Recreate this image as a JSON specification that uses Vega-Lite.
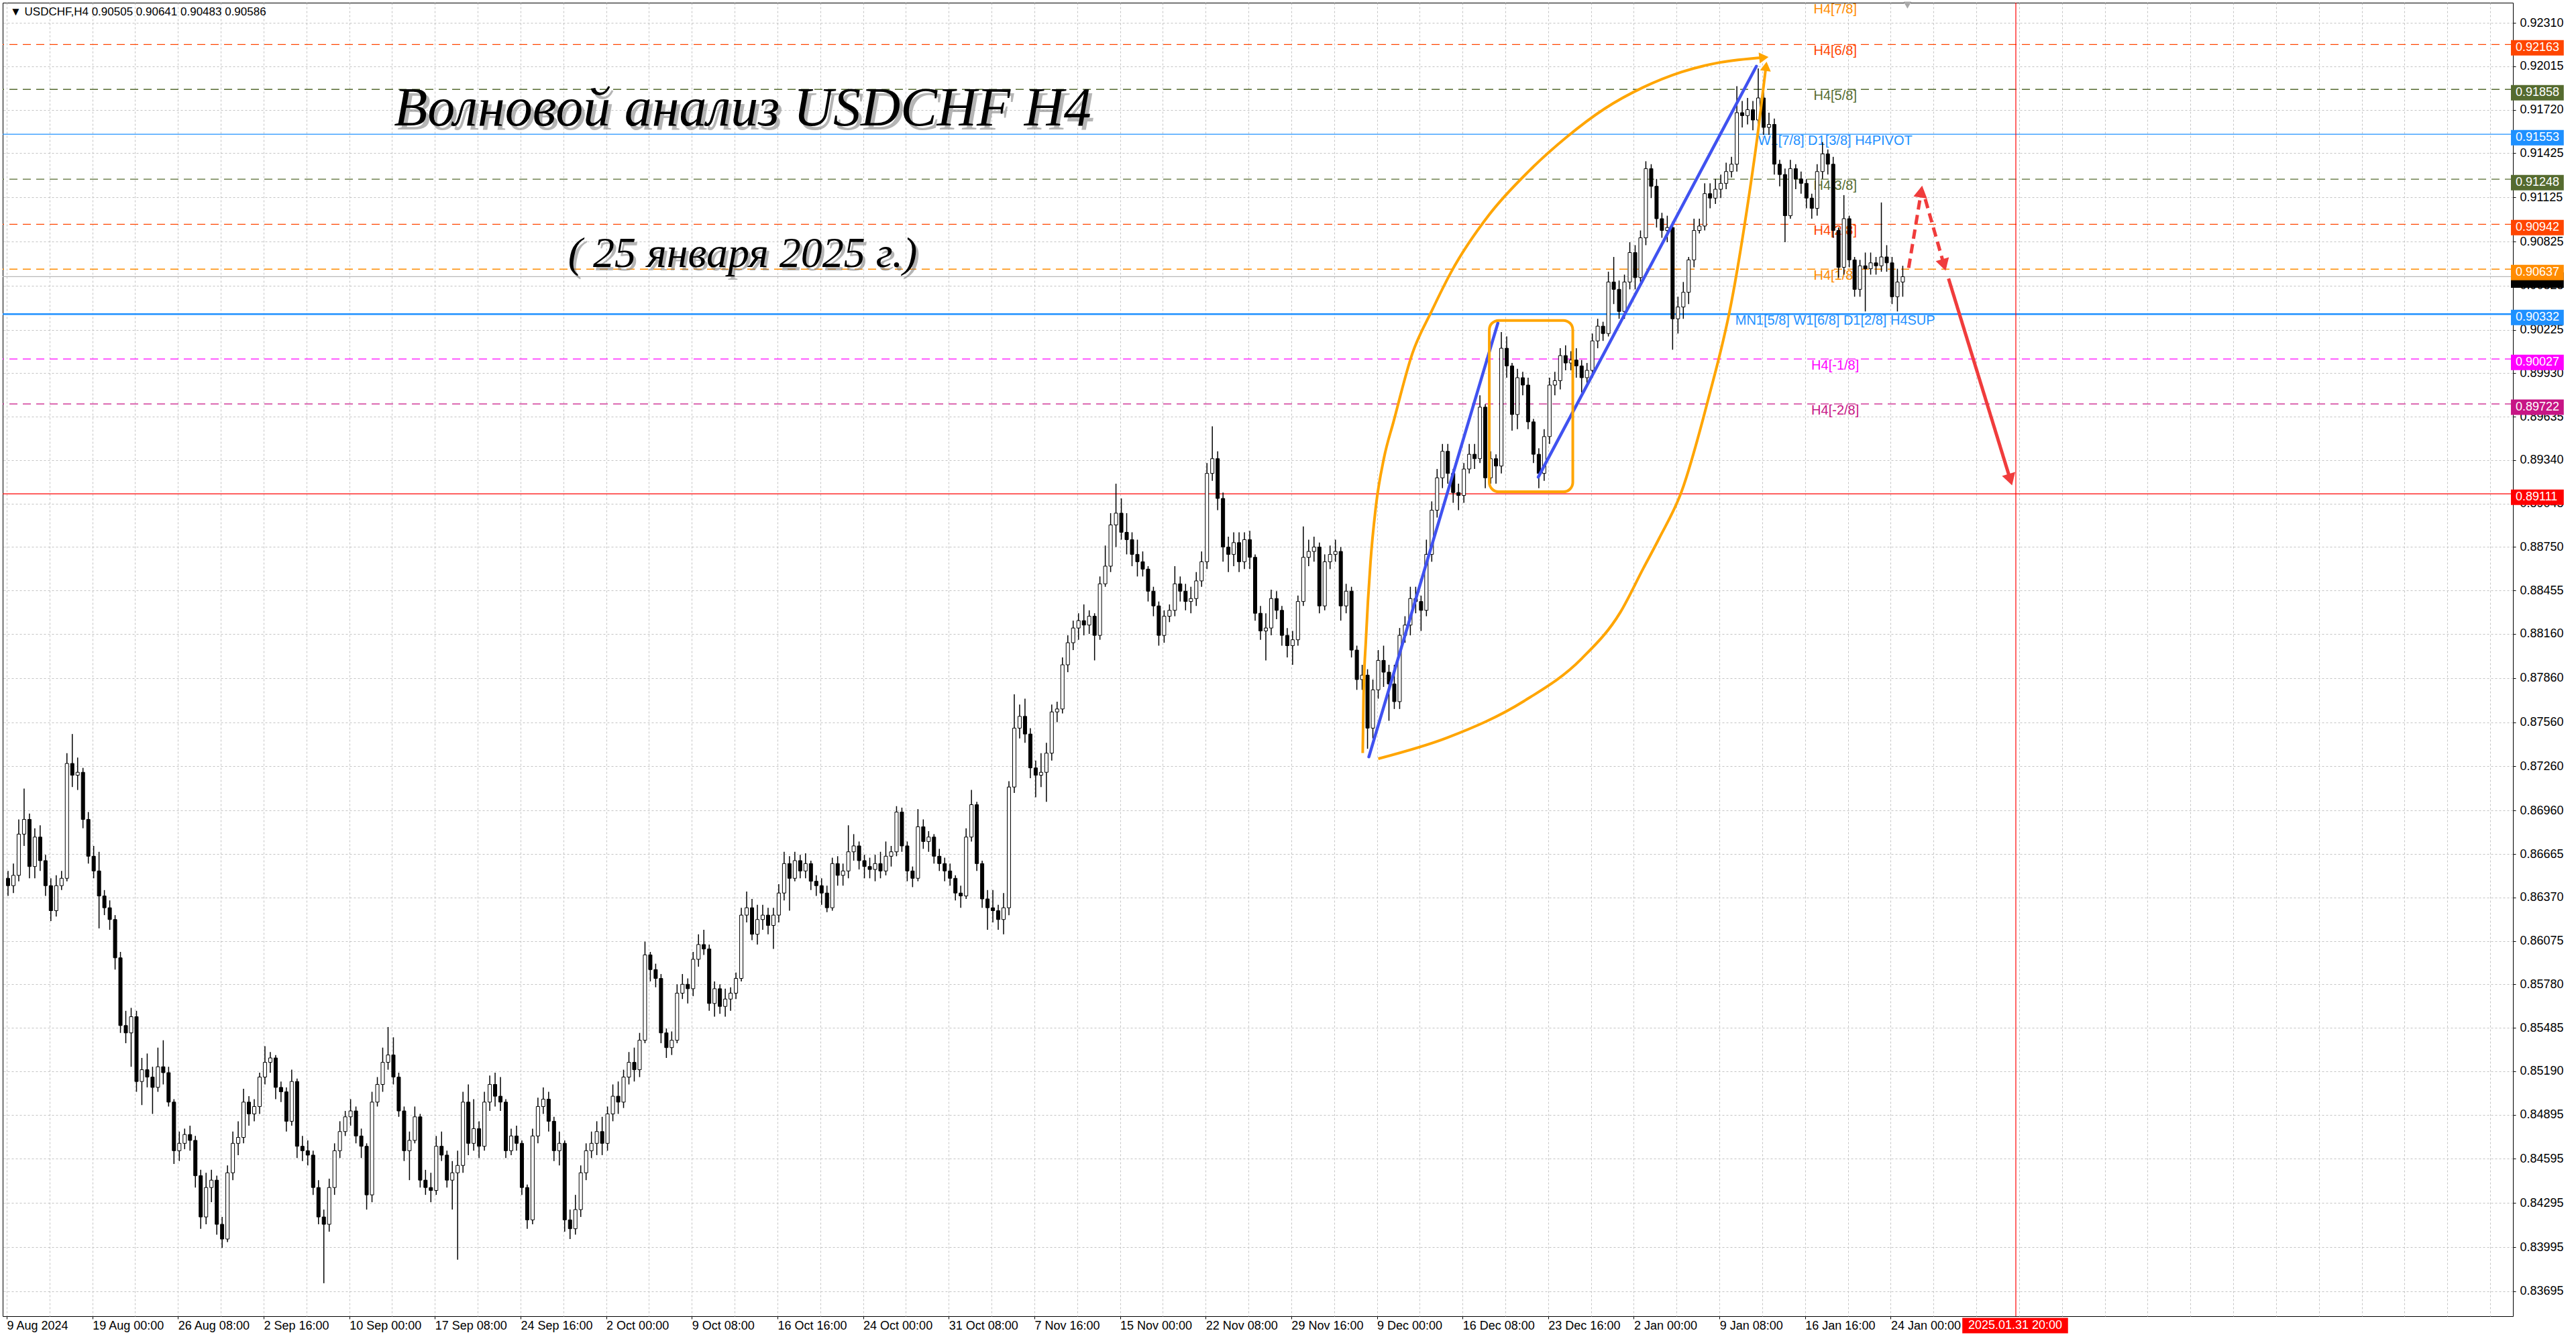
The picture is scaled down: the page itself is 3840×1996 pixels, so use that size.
{
  "$schema": "https://vega.github.io/schema/vega-lite/v6.json",
  "description": "USDCHF H4 wave analysis, 25 Jan 2025",
  "width": 3742,
  "height": 1958,
  "autosize": {"type": "none"},
  "padding": {"left": 4, "top": 4, "right": 94, "bottom": 34},
  "background": "#ffffff",
  "config": {"view": {"stroke": "#000000", "strokeWidth": 1}},
  "datasets": {
    "candles": [
      {"t":0,"o":0.8650,"h":0.8655,"l":0.8638,"c":0.8645},{"t":2,"o":0.8645,"h":0.8660,"l":0.8640,"c":0.8652},
      {"t":4,"o":0.8652,"h":0.8690,"l":0.8648,"c":0.8680},{"t":6,"o":0.8680,"h":0.8711,"l":0.8672,"c":0.8690},
      {"t":8,"o":0.8690,"h":0.8694,"l":0.8650,"c":0.8658},{"t":10,"o":0.8658,"h":0.8684,"l":0.8650,"c":0.8678},
      {"t":12,"o":0.8678,"h":0.8686,"l":0.8655,"c":0.8662},{"t":14,"o":0.8662,"h":0.8666,"l":0.8638,"c":0.8645},
      {"t":16,"o":0.8645,"h":0.8650,"l":0.8621,"c":0.8628},{"t":18,"o":0.8628,"h":0.8652,"l":0.8624,"c":0.8645},
      {"t":20,"o":0.8645,"h":0.8655,"l":0.8642,"c":0.8650},{"t":22,"o":0.8650,"h":0.8735,"l":0.8648,"c":0.8728},
      {"t":24,"o":0.8728,"h":0.8748,"l":0.8712,"c":0.8720},{"t":26,"o":0.8720,"h":0.8732,"l":0.8710,"c":0.8722},
      {"t":28,"o":0.8722,"h":0.8725,"l":0.8684,"c":0.8690},{"t":30,"o":0.8690,"h":0.8695,"l":0.8660,"c":0.8665},
      {"t":32,"o":0.8665,"h":0.8672,"l":0.8650,"c":0.8655},{"t":34,"o":0.8655,"h":0.8668,"l":0.8616,"c":0.8638},
      {"t":36,"o":0.8638,"h":0.8642,"l":0.8625,"c":0.8630},{"t":38,"o":0.8630,"h":0.8635,"l":0.8615,"c":0.8622},
      {"t":40,"o":0.8622,"h":0.8625,"l":0.8588,"c":0.8596},{"t":42,"o":0.8596,"h":0.8600,"l":0.8545,"c":0.8550},
      {"t":44,"o":0.8550,"h":0.8560,"l":0.8538,"c":0.8545},{"t":46,"o":0.8545,"h":0.8562,"l":0.8522,"c":0.8556},
      {"t":48,"o":0.8556,"h":0.8560,"l":0.8505,"c":0.8512},{"t":50,"o":0.8512,"h":0.8528,"l":0.8496,"c":0.8520},
      {"t":52,"o":0.8520,"h":0.8531,"l":0.8508,"c":0.8515},{"t":54,"o":0.8515,"h":0.8522,"l":0.8490,"c":0.8508},
      {"t":56,"o":0.8508,"h":0.8535,"l":0.8505,"c":0.8522},{"t":58,"o":0.8522,"h":0.8540,"l":0.8510,"c":0.8518},
      {"t":60,"o":0.8518,"h":0.8522,"l":0.8495,"c":0.8498},{"t":62,"o":0.8498,"h":0.8500,"l":0.8456,"c":0.8465},
      {"t":64,"o":0.8465,"h":0.8478,"l":0.8458,"c":0.8470},{"t":66,"o":0.8470,"h":0.8480,"l":0.8466,"c":0.8476},
      {"t":68,"o":0.8476,"h":0.8482,"l":0.8465,"c":0.8472},{"t":70,"o":0.8472,"h":0.8475,"l":0.8440,"c":0.8448},
      {"t":72,"o":0.8448,"h":0.8452,"l":0.8412,"c":0.8420},{"t":74,"o":0.8420,"h":0.8450,"l":0.8415,"c":0.8440},
      {"t":76,"o":0.8440,"h":0.8452,"l":0.8430,"c":0.8445},{"t":78,"o":0.8445,"h":0.8448,"l":0.8408,"c":0.8415},
      {"t":80,"o":0.8415,"h":0.8420,"l":0.8399,"c":0.8405},{"t":82,"o":0.8405,"h":0.8455,"l":0.8403,"c":0.8450},
      {"t":84,"o":0.8450,"h":0.8478,"l":0.8445,"c":0.8470},{"t":86,"o":0.8470,"h":0.8485,"l":0.8462,"c":0.8474},
      {"t":88,"o":0.8474,"h":0.8507,"l":0.8470,"c":0.8498},{"t":90,"o":0.8498,"h":0.8502,"l":0.8482,"c":0.8490},
      {"t":92,"o":0.8490,"h":0.8500,"l":0.8485,"c":0.8495},{"t":94,"o":0.8495,"h":0.8518,"l":0.8490,"c":0.8515},
      {"t":96,"o":0.8515,"h":0.8536,"l":0.8510,"c":0.8525},{"t":98,"o":0.8525,"h":0.8532,"l":0.8518,"c":0.8528},
      {"t":100,"o":0.8528,"h":0.8530,"l":0.8500,"c":0.8508},{"t":102,"o":0.8508,"h":0.8512,"l":0.8498,"c":0.8505},
      {"t":104,"o":0.8505,"h":0.8508,"l":0.8478,"c":0.8485},{"t":106,"o":0.8485,"h":0.8520,"l":0.8482,"c":0.8512},
      {"t":108,"o":0.8512,"h":0.8514,"l":0.8460,"c":0.8468},{"t":110,"o":0.8468,"h":0.8475,"l":0.8458,"c":0.8465},
      {"t":112,"o":0.8465,"h":0.8472,"l":0.8455,"c":0.8462},{"t":114,"o":0.8462,"h":0.8465,"l":0.8435,"c":0.8440},
      {"t":116,"o":0.8440,"h":0.8445,"l":0.8415,"c":0.8420},{"t":118,"o":0.8420,"h":0.8425,"l":0.8375,"c":0.8415},
      {"t":120,"o":0.8415,"h":0.8446,"l":0.8410,"c":0.8440},{"t":122,"o":0.8440,"h":0.8470,"l":0.8435,"c":0.8465},
      {"t":124,"o":0.8465,"h":0.8485,"l":0.8460,"c":0.8478},{"t":126,"o":0.8478,"h":0.8492,"l":0.8475,"c":0.8488},
      {"t":128,"o":0.8488,"h":0.8500,"l":0.8482,"c":0.8492},{"t":130,"o":0.8492,"h":0.8495,"l":0.8470,"c":0.8475},
      {"t":132,"o":0.8475,"h":0.8480,"l":0.8460,"c":0.8468},{"t":134,"o":0.8468,"h":0.8470,"l":0.8425,"c":0.8435},
      {"t":136,"o":0.8435,"h":0.8505,"l":0.8430,"c":0.8498},{"t":138,"o":0.8498,"h":0.8515,"l":0.8495,"c":0.8510},
      {"t":140,"o":0.8510,"h":0.8535,"l":0.8505,"c":0.8525},{"t":142,"o":0.8525,"h":0.8549,"l":0.8520,"c":0.8530},
      {"t":144,"o":0.8530,"h":0.8542,"l":0.8510,"c":0.8515},{"t":146,"o":0.8515,"h":0.8518,"l":0.8488,"c":0.8492},
      {"t":148,"o":0.8492,"h":0.8495,"l":0.8458,"c":0.8465},{"t":150,"o":0.8465,"h":0.8478,"l":0.8445,"c":0.8472},
      {"t":152,"o":0.8472,"h":0.8495,"l":0.8470,"c":0.8488},{"t":154,"o":0.8488,"h":0.8490,"l":0.8440,"c":0.8445},
      {"t":156,"o":0.8445,"h":0.8452,"l":0.8435,"c":0.8440},{"t":158,"o":0.8440,"h":0.8450,"l":0.8430,"c":0.8438},
      {"t":160,"o":0.8438,"h":0.8475,"l":0.8435,"c":0.8468},{"t":162,"o":0.8468,"h":0.8478,"l":0.8458,"c":0.8462},
      {"t":164,"o":0.8462,"h":0.8465,"l":0.8440,"c":0.8445},{"t":166,"o":0.8445,"h":0.8458,"l":0.8425,"c":0.8450},
      {"t":168,"o":0.8450,"h":0.8465,"l":0.8391,"c":0.8455},{"t":170,"o":0.8455,"h":0.8505,"l":0.8450,"c":0.8498},
      {"t":172,"o":0.8498,"h":0.8510,"l":0.8462,"c":0.8470},{"t":174,"o":0.8470,"h":0.8500,"l":0.8465,"c":0.8480},
      {"t":176,"o":0.8480,"h":0.8485,"l":0.8460,"c":0.8468},{"t":178,"o":0.8468,"h":0.8505,"l":0.8465,"c":0.8498},
      {"t":180,"o":0.8498,"h":0.8516,"l":0.8492,"c":0.8510},{"t":182,"o":0.8510,"h":0.8518,"l":0.8495,"c":0.8502},
      {"t":184,"o":0.8502,"h":0.8515,"l":0.8492,"c":0.8498},{"t":186,"o":0.8498,"h":0.8500,"l":0.8460,"c":0.8465},
      {"t":188,"o":0.8465,"h":0.8480,"l":0.8462,"c":0.8475},{"t":190,"o":0.8475,"h":0.8482,"l":0.8465,"c":0.8470},
      {"t":192,"o":0.8470,"h":0.8472,"l":0.8435,"c":0.8440},{"t":194,"o":0.8440,"h":0.8442,"l":0.8412,"c":0.8418},
      {"t":196,"o":0.8418,"h":0.8480,"l":0.8415,"c":0.8475},{"t":198,"o":0.8475,"h":0.8501,"l":0.8470,"c":0.8495},
      {"t":200,"o":0.8495,"h":0.8508,"l":0.8490,"c":0.8500},{"t":202,"o":0.8500,"h":0.8505,"l":0.8478,"c":0.8485},
      {"t":204,"o":0.8485,"h":0.8488,"l":0.8458,"c":0.8465},{"t":206,"o":0.8465,"h":0.8478,"l":0.8455,"c":0.8470},
      {"t":208,"o":0.8470,"h":0.8472,"l":0.8410,"c":0.8418},{"t":210,"o":0.8418,"h":0.8425,"l":0.8405,"c":0.8412},
      {"t":212,"o":0.8412,"h":0.8435,"l":0.8408,"c":0.8425},{"t":214,"o":0.8425,"h":0.8455,"l":0.8420,"c":0.8450},
      {"t":216,"o":0.8450,"h":0.8470,"l":0.8445,"c":0.8465},{"t":218,"o":0.8465,"h":0.8478,"l":0.8460,"c":0.8470},
      {"t":220,"o":0.8470,"h":0.8485,"l":0.8462,"c":0.8478},{"t":222,"o":0.8478,"h":0.8488,"l":0.8462,"c":0.8470},
      {"t":224,"o":0.8470,"h":0.8495,"l":0.8465,"c":0.8490},{"t":226,"o":0.8490,"h":0.8510,"l":0.8485,"c":0.8502},
      {"t":228,"o":0.8502,"h":0.8512,"l":0.8490,"c":0.8498},{"t":230,"o":0.8498,"h":0.8520,"l":0.8494,"c":0.8515},
      {"t":232,"o":0.8515,"h":0.8532,"l":0.8510,"c":0.8525},{"t":234,"o":0.8525,"h":0.8535,"l":0.8512,"c":0.8520},
      {"t":236,"o":0.8520,"h":0.8545,"l":0.8515,"c":0.8540},{"t":238,"o":0.8540,"h":0.8607,"l":0.8538,"c":0.8598},
      {"t":240,"o":0.8598,"h":0.8600,"l":0.8580,"c":0.8588},{"t":242,"o":0.8588,"h":0.8592,"l":0.8576,"c":0.8582},
      {"t":244,"o":0.8582,"h":0.8585,"l":0.8538,"c":0.8545},{"t":246,"o":0.8545,"h":0.8548,"l":0.8528,"c":0.8535},
      {"t":248,"o":0.8535,"h":0.8546,"l":0.8530,"c":0.8540},{"t":250,"o":0.8540,"h":0.8578,"l":0.8538,"c":0.8572},
      {"t":252,"o":0.8572,"h":0.8585,"l":0.8568,"c":0.8578},{"t":254,"o":0.8578,"h":0.8582,"l":0.8565,"c":0.8575},
      {"t":256,"o":0.8575,"h":0.8600,"l":0.8570,"c":0.8595},{"t":258,"o":0.8595,"h":0.8612,"l":0.8590,"c":0.8605},
      {"t":260,"o":0.8605,"h":0.8615,"l":0.8598,"c":0.8602},{"t":262,"o":0.8602,"h":0.8605,"l":0.8560,"c":0.8565},
      {"t":264,"o":0.8565,"h":0.8580,"l":0.8556,"c":0.8575},{"t":266,"o":0.8575,"h":0.8578,"l":0.8558,"c":0.8563},
      {"t":268,"o":0.8563,"h":0.8575,"l":0.8556,"c":0.8568},{"t":270,"o":0.8568,"h":0.8576,"l":0.8560,"c":0.8572},
      {"t":272,"o":0.8572,"h":0.8586,"l":0.8568,"c":0.8582},{"t":274,"o":0.8582,"h":0.8630,"l":0.8580,"c":0.8625},
      {"t":276,"o":0.8625,"h":0.8641,"l":0.8620,"c":0.8630},{"t":278,"o":0.8630,"h":0.8636,"l":0.8608,"c":0.8612},
      {"t":280,"o":0.8612,"h":0.8632,"l":0.8605,"c":0.8622},{"t":282,"o":0.8622,"h":0.8632,"l":0.8615,"c":0.8625},
      {"t":284,"o":0.8625,"h":0.8630,"l":0.8612,"c":0.8618},{"t":286,"o":0.8618,"h":0.8630,"l":0.8602,"c":0.8625},
      {"t":288,"o":0.8625,"h":0.8646,"l":0.8620,"c":0.8640},{"t":290,"o":0.8640,"h":0.8668,"l":0.8635,"c":0.8660},
      {"t":292,"o":0.8660,"h":0.8665,"l":0.8628,"c":0.8650},{"t":294,"o":0.8650,"h":0.8668,"l":0.8648,"c":0.8662},
      {"t":296,"o":0.8662,"h":0.8666,"l":0.8650,"c":0.8655},{"t":298,"o":0.8655,"h":0.8667,"l":0.8650,"c":0.8660},
      {"t":300,"o":0.8660,"h":0.8662,"l":0.8642,"c":0.8648},{"t":302,"o":0.8648,"h":0.8652,"l":0.8638,"c":0.8645},
      {"t":304,"o":0.8645,"h":0.8650,"l":0.8632,"c":0.8640},{"t":306,"o":0.8640,"h":0.8645,"l":0.8627,"c":0.8630},
      {"t":308,"o":0.8630,"h":0.8664,"l":0.8628,"c":0.8660},{"t":310,"o":0.8660,"h":0.8665,"l":0.8645,"c":0.8652},
      {"t":312,"o":0.8652,"h":0.8660,"l":0.8645,"c":0.8655},{"t":314,"o":0.8655,"h":0.8686,"l":0.8650,"c":0.8668},
      {"t":316,"o":0.8668,"h":0.8680,"l":0.8662,"c":0.8672},{"t":318,"o":0.8672,"h":0.8675,"l":0.8656,"c":0.8662},
      {"t":320,"o":0.8662,"h":0.8666,"l":0.8650,"c":0.8658},{"t":322,"o":0.8658,"h":0.8664,"l":0.8650,"c":0.8656},
      {"t":324,"o":0.8656,"h":0.8666,"l":0.8648,"c":0.8660},{"t":326,"o":0.8660,"h":0.8668,"l":0.8650,"c":0.8655},
      {"t":328,"o":0.8655,"h":0.8675,"l":0.8652,"c":0.8665},{"t":330,"o":0.8665,"h":0.8672,"l":0.8658,"c":0.8668},
      {"t":332,"o":0.8668,"h":0.8699,"l":0.8665,"c":0.8695},{"t":334,"o":0.8695,"h":0.8698,"l":0.8668,"c":0.8672},
      {"t":336,"o":0.8672,"h":0.8675,"l":0.8648,"c":0.8655},{"t":338,"o":0.8655,"h":0.8658,"l":0.8644,"c":0.8650},
      {"t":340,"o":0.8650,"h":0.8697,"l":0.8648,"c":0.8685},{"t":342,"o":0.8685,"h":0.8690,"l":0.8670,"c":0.8675},
      {"t":344,"o":0.8675,"h":0.8682,"l":0.8668,"c":0.8678},{"t":346,"o":0.8678,"h":0.8680,"l":0.8660,"c":0.8665},
      {"t":348,"o":0.8665,"h":0.8670,"l":0.8655,"c":0.8660},{"t":350,"o":0.8660,"h":0.8664,"l":0.8648,"c":0.8655},
      {"t":352,"o":0.8655,"h":0.8660,"l":0.8645,"c":0.8650},{"t":354,"o":0.8650,"h":0.8652,"l":0.8635,"c":0.8640},
      {"t":356,"o":0.8640,"h":0.8645,"l":0.8630,"c":0.8638},{"t":358,"o":0.8638,"h":0.8684,"l":0.8636,"c":0.8678},
      {"t":360,"o":0.8678,"h":0.8710,"l":0.8675,"c":0.8700},{"t":362,"o":0.8700,"h":0.8702,"l":0.8655,"c":0.8660},
      {"t":364,"o":0.8660,"h":0.8662,"l":0.8630,"c":0.8636},{"t":366,"o":0.8636,"h":0.8642,"l":0.8615,"c":0.8630},
      {"t":368,"o":0.8630,"h":0.8642,"l":0.8620,"c":0.8628},{"t":370,"o":0.8628,"h":0.8632,"l":0.8615,"c":0.8622},
      {"t":372,"o":0.8622,"h":0.8640,"l":0.8612,"c":0.8630},{"t":374,"o":0.8630,"h":0.8716,"l":0.8625,"c":0.8712},
      {"t":376,"o":0.8712,"h":0.8775,"l":0.8708,"c":0.8752},{"t":378,"o":0.8752,"h":0.8768,"l":0.8745,"c":0.8760},
      {"t":380,"o":0.8760,"h":0.8772,"l":0.8742,"c":0.8748},{"t":382,"o":0.8748,"h":0.8752,"l":0.8718,"c":0.8725},
      {"t":384,"o":0.8725,"h":0.8730,"l":0.8705,"c":0.8720},{"t":386,"o":0.8720,"h":0.8735,"l":0.8712,"c":0.8722},
      {"t":388,"o":0.8722,"h":0.8742,"l":0.8702,"c":0.8735},{"t":390,"o":0.8735,"h":0.8768,"l":0.8730,"c":0.8763},
      {"t":392,"o":0.8763,"h":0.8770,"l":0.8756,"c":0.8765},{"t":394,"o":0.8765,"h":0.8800,"l":0.8762,"c":0.8795},
      {"t":396,"o":0.8795,"h":0.8815,"l":0.8790,"c":0.8810},{"t":398,"o":0.8810,"h":0.8825,"l":0.8805,"c":0.8820},
      {"t":400,"o":0.8820,"h":0.8830,"l":0.8812,"c":0.8825},{"t":402,"o":0.8825,"h":0.8836,"l":0.8815,"c":0.8822},
      {"t":404,"o":0.8822,"h":0.8832,"l":0.8816,"c":0.8828},{"t":406,"o":0.8828,"h":0.8830,"l":0.8798,"c":0.8815},
      {"t":408,"o":0.8815,"h":0.8855,"l":0.8812,"c":0.8850},{"t":410,"o":0.8850,"h":0.8876,"l":0.8848,"c":0.8862},
      {"t":412,"o":0.8862,"h":0.8898,"l":0.8858,"c":0.8890},{"t":414,"o":0.8890,"h":0.8918,"l":0.8875,"c":0.8898},
      {"t":416,"o":0.8898,"h":0.8908,"l":0.8880,"c":0.8885},{"t":418,"o":0.8885,"h":0.8898,"l":0.8870,"c":0.8880},
      {"t":420,"o":0.8880,"h":0.8885,"l":0.8862,"c":0.8870},{"t":422,"o":0.8870,"h":0.8880,"l":0.8855,"c":0.8865},
      {"t":424,"o":0.8865,"h":0.8872,"l":0.8855,"c":0.8860},{"t":426,"o":0.8860,"h":0.8862,"l":0.8838,"c":0.8845},
      {"t":428,"o":0.8845,"h":0.8848,"l":0.8828,"c":0.8835},{"t":430,"o":0.8835,"h":0.8838,"l":0.8808,"c":0.8815},
      {"t":432,"o":0.8815,"h":0.8832,"l":0.8810,"c":0.8828},{"t":434,"o":0.8828,"h":0.8836,"l":0.8824,"c":0.8832},
      {"t":436,"o":0.8832,"h":0.8862,"l":0.8828,"c":0.8850},{"t":438,"o":0.8850,"h":0.8855,"l":0.8838,"c":0.8845},
      {"t":440,"o":0.8845,"h":0.8850,"l":0.8832,"c":0.8838},{"t":442,"o":0.8838,"h":0.8848,"l":0.8830,"c":0.8840},
      {"t":444,"o":0.8840,"h":0.8858,"l":0.8835,"c":0.8852},{"t":446,"o":0.8852,"h":0.8872,"l":0.8848,"c":0.8865},
      {"t":448,"o":0.8865,"h":0.8932,"l":0.8860,"c":0.8925},{"t":450,"o":0.8925,"h":0.8957,"l":0.8920,"c":0.8935},
      {"t":452,"o":0.8935,"h":0.8940,"l":0.8900,"c":0.8908},{"t":454,"o":0.8908,"h":0.8912,"l":0.8865,"c":0.8875},
      {"t":456,"o":0.8875,"h":0.8882,"l":0.8858,"c":0.8870},{"t":458,"o":0.8870,"h":0.8885,"l":0.8862,"c":0.8878},
      {"t":460,"o":0.8878,"h":0.8885,"l":0.8858,"c":0.8865},{"t":462,"o":0.8865,"h":0.8885,"l":0.8860,"c":0.8880},
      {"t":464,"o":0.8880,"h":0.8886,"l":0.8860,"c":0.8868},{"t":466,"o":0.8868,"h":0.8870,"l":0.8825,"c":0.8830},
      {"t":468,"o":0.8830,"h":0.8835,"l":0.8812,"c":0.8818},{"t":470,"o":0.8818,"h":0.8830,"l":0.8798,"c":0.8820},
      {"t":472,"o":0.8820,"h":0.8846,"l":0.8815,"c":0.8840},{"t":474,"o":0.8840,"h":0.8845,"l":0.8826,"c":0.8832},
      {"t":476,"o":0.8832,"h":0.8835,"l":0.8808,"c":0.8815},{"t":478,"o":0.8815,"h":0.8820,"l":0.8800,"c":0.8808},
      {"t":480,"o":0.8808,"h":0.8818,"l":0.8795,"c":0.8812},{"t":482,"o":0.8812,"h":0.8842,"l":0.8808,"c":0.8838},
      {"t":484,"o":0.8838,"h":0.8889,"l":0.8835,"c":0.8868},{"t":486,"o":0.8868,"h":0.8880,"l":0.8862,"c":0.8872},
      {"t":488,"o":0.8872,"h":0.8882,"l":0.8865,"c":0.8875},{"t":490,"o":0.8875,"h":0.8878,"l":0.8830,"c":0.8835},
      {"t":492,"o":0.8835,"h":0.8870,"l":0.8832,"c":0.8865},{"t":494,"o":0.8865,"h":0.8876,"l":0.8860,"c":0.8870},
      {"t":496,"o":0.8870,"h":0.8880,"l":0.8865,"c":0.8872},{"t":498,"o":0.8872,"h":0.8875,"l":0.8825,"c":0.8835},
      {"t":500,"o":0.8835,"h":0.8850,"l":0.8830,"c":0.8845},{"t":502,"o":0.8845,"h":0.8848,"l":0.8800,"c":0.8805},
      {"t":504,"o":0.8805,"h":0.8808,"l":0.8778,"c":0.8785},{"t":506,"o":0.8785,"h":0.8795,"l":0.8778,"c":0.8788},
      {"t":508,"o":0.8788,"h":0.8792,"l":0.8738,"c":0.8752},{"t":510,"o":0.8752,"h":0.8785,"l":0.8745,"c":0.8778},
      {"t":512,"o":0.8778,"h":0.8805,"l":0.8772,"c":0.8798},{"t":514,"o":0.8798,"h":0.8808,"l":0.8780,"c":0.8790},
      {"t":516,"o":0.8790,"h":0.8795,"l":0.8757,"c":0.8782},{"t":518,"o":0.8782,"h":0.8795,"l":0.8765,"c":0.8770},
      {"t":520,"o":0.8770,"h":0.8820,"l":0.8765,"c":0.8815},{"t":522,"o":0.8815,"h":0.8828,"l":0.8810,"c":0.8822},
      {"t":524,"o":0.8822,"h":0.8848,"l":0.8815,"c":0.8840},{"t":526,"o":0.8840,"h":0.8848,"l":0.8830,"c":0.8838},
      {"t":528,"o":0.8838,"h":0.8842,"l":0.8818,"c":0.8832},{"t":530,"o":0.8832,"h":0.8880,"l":0.8828,"c":0.8870},
      {"t":532,"o":0.8870,"h":0.8906,"l":0.8865,"c":0.8900},{"t":534,"o":0.8900,"h":0.8928,"l":0.8895,"c":0.8922},
      {"t":536,"o":0.8922,"h":0.8945,"l":0.8915,"c":0.8940},{"t":538,"o":0.8940,"h":0.8945,"l":0.8918,"c":0.8925},
      {"t":540,"o":0.8925,"h":0.8928,"l":0.8905,"c":0.8912},{"t":542,"o":0.8912,"h":0.8918,"l":0.8900,"c":0.8910},
      {"t":544,"o":0.8910,"h":0.8932,"l":0.8905,"c":0.8928},{"t":546,"o":0.8928,"h":0.8945,"l":0.8925,"c":0.8938},
      {"t":548,"o":0.8938,"h":0.8945,"l":0.8928,"c":0.8935},{"t":550,"o":0.8935,"h":0.8978,"l":0.8932,"c":0.8970},
      {"t":552,"o":0.8970,"h":0.8972,"l":0.8915,"c":0.8922},{"t":554,"o":0.8922,"h":0.8940,"l":0.8918,"c":0.8935},
      {"t":556,"o":0.8935,"h":0.8938,"l":0.8918,"c":0.8930},{"t":558,"o":0.8930,"h":0.9021,"l":0.8925,"c":0.9010},
      {"t":560,"o":0.9010,"h":0.9018,"l":0.8990,"c":0.8998},{"t":562,"o":0.8998,"h":0.9000,"l":0.8954,"c":0.8965},
      {"t":564,"o":0.8965,"h":0.8996,"l":0.8955,"c":0.8990},{"t":566,"o":0.8990,"h":0.8994,"l":0.8978,"c":0.8985},
      {"t":568,"o":0.8985,"h":0.8990,"l":0.8955,"c":0.8960},{"t":570,"o":0.8960,"h":0.8962,"l":0.8932,"c":0.8938},
      {"t":572,"o":0.8938,"h":0.8942,"l":0.8915,"c":0.8925},{"t":574,"o":0.8925,"h":0.8955,"l":0.8920,"c":0.8950},
      {"t":576,"o":0.8950,"h":0.8990,"l":0.8945,"c":0.8985},{"t":578,"o":0.8985,"h":0.8994,"l":0.8978,"c":0.8988},
      {"t":580,"o":0.8988,"h":0.9010,"l":0.8982,"c":0.9005},{"t":582,"o":0.9005,"h":0.9012,"l":0.8995,"c":0.9000},
      {"t":584,"o":0.9000,"h":0.9008,"l":0.8995,"c":0.9002},{"t":586,"o":0.9002,"h":0.9010,"l":0.8990,"c":0.8998},
      {"t":588,"o":0.8998,"h":0.9002,"l":0.8980,"c":0.8990},{"t":590,"o":0.8990,"h":0.9000,"l":0.8985,"c":0.8995},
      {"t":592,"o":0.8995,"h":0.9020,"l":0.8990,"c":0.9015},{"t":594,"o":0.9015,"h":0.9030,"l":0.9010,"c":0.9025},
      {"t":596,"o":0.9025,"h":0.9028,"l":0.9015,"c":0.9020},{"t":598,"o":0.9020,"h":0.9062,"l":0.9018,"c":0.9055},
      {"t":600,"o":0.9055,"h":0.9072,"l":0.9040,"c":0.9050},{"t":602,"o":0.9050,"h":0.9056,"l":0.9030,"c":0.9035},
      {"t":604,"o":0.9035,"h":0.9060,"l":0.9030,"c":0.9055},{"t":606,"o":0.9055,"h":0.9082,"l":0.9050,"c":0.9075},
      {"t":608,"o":0.9075,"h":0.9080,"l":0.9050,"c":0.9058},{"t":610,"o":0.9058,"h":0.9090,"l":0.9055,"c":0.9085},
      {"t":612,"o":0.9085,"h":0.9137,"l":0.9080,"c":0.9132},{"t":614,"o":0.9132,"h":0.9135,"l":0.9112,"c":0.9120},
      {"t":616,"o":0.9120,"h":0.9125,"l":0.9092,"c":0.9098},{"t":618,"o":0.9098,"h":0.9102,"l":0.9085,"c":0.9090},
      {"t":620,"o":0.9090,"h":0.9100,"l":0.9082,"c":0.9092},{"t":622,"o":0.9092,"h":0.9096,"l":0.9009,"c":0.9030},
      {"t":624,"o":0.9030,"h":0.9045,"l":0.9020,"c":0.9038},{"t":626,"o":0.9038,"h":0.9055,"l":0.9030,"c":0.9048},
      {"t":628,"o":0.9048,"h":0.9072,"l":0.9040,"c":0.9070},{"t":630,"o":0.9070,"h":0.9098,"l":0.9065,"c":0.9090},
      {"t":632,"o":0.9090,"h":0.9098,"l":0.9088,"c":0.9093},{"t":634,"o":0.9093,"h":0.9122,"l":0.9090,"c":0.9115},
      {"t":636,"o":0.9115,"h":0.9122,"l":0.9105,"c":0.9112},{"t":638,"o":0.9112,"h":0.9125,"l":0.9108,"c":0.9118},
      {"t":640,"o":0.9118,"h":0.9128,"l":0.9112,"c":0.9122},{"t":642,"o":0.9122,"h":0.9136,"l":0.9118,"c":0.9130},
      {"t":644,"o":0.9130,"h":0.9140,"l":0.9126,"c":0.9135},{"t":646,"o":0.9135,"h":0.9188,"l":0.9130,"c":0.9170},
      {"t":648,"o":0.9170,"h":0.9178,"l":0.9160,"c":0.9168},{"t":650,"o":0.9168,"h":0.9180,"l":0.9162,"c":0.9172},
      {"t":652,"o":0.9172,"h":0.9178,"l":0.9158,"c":0.9165},{"t":654,"o":0.9165,"h":0.9200,"l":0.9160,"c":0.9180},
      {"t":656,"o":0.9180,"h":0.9185,"l":0.9155,"c":0.9160},{"t":658,"o":0.9160,"h":0.9170,"l":0.9155,"c":0.9162},
      {"t":660,"o":0.9162,"h":0.9166,"l":0.9128,"c":0.9135},{"t":662,"o":0.9135,"h":0.9138,"l":0.9120,"c":0.9128},
      {"t":664,"o":0.9128,"h":0.9132,"l":0.9082,"c":0.9100},{"t":666,"o":0.9100,"h":0.9138,"l":0.9098,"c":0.9132},
      {"t":668,"o":0.9132,"h":0.9135,"l":0.9118,"c":0.9125},{"t":670,"o":0.9125,"h":0.9130,"l":0.9115,"c":0.9122},
      {"t":672,"o":0.9122,"h":0.9125,"l":0.9105,"c":0.9112},{"t":674,"o":0.9112,"h":0.9115,"l":0.9098,"c":0.9105},
      {"t":676,"o":0.9105,"h":0.9135,"l":0.9100,"c":0.9130},{"t":678,"o":0.9130,"h":0.9150,"l":0.9125,"c":0.9142},
      {"t":680,"o":0.9142,"h":0.9145,"l":0.9128,"c":0.9135},{"t":682,"o":0.9135,"h":0.9140,"l":0.9085,"c":0.9090},
      {"t":684,"o":0.9090,"h":0.9092,"l":0.9058,"c":0.9065},{"t":686,"o":0.9065,"h":0.9114,"l":0.9060,"c":0.9098},
      {"t":688,"o":0.9098,"h":0.9100,"l":0.9065,"c":0.9070},{"t":690,"o":0.9070,"h":0.9072,"l":0.9045,"c":0.9050},
      {"t":692,"o":0.9050,"h":0.9070,"l":0.9045,"c":0.9066},{"t":694,"o":0.9066,"h":0.9075,"l":0.9035,"c":0.9064},
      {"t":696,"o":0.9064,"h":0.9075,"l":0.9060,"c":0.9068},{"t":698,"o":0.9068,"h":0.9072,"l":0.9060,"c":0.9066},
      {"t":700,"o":0.9066,"h":0.9109,"l":0.9062,"c":0.9072},{"t":702,"o":0.9072,"h":0.9080,"l":0.9062,"c":0.9068},
      {"t":704,"o":0.9068,"h":0.9072,"l":0.9040,"c":0.9045},{"t":706,"o":0.9045,"h":0.9064,"l":0.9035,"c":0.9055},
      {"t":708,"o":0.9055,"h":0.9066,"l":0.9045,"c":0.90586}
    ],
    "levels": [
      {"key":"7/8","p":0.92468,"label":"H4[7/8]"},
      {"key":"6/8","p":0.92163,"label":"H4[6/8]"},
      {"key":"5/8","p":0.91858,"label":"H4[5/8]"},
      {"key":"pivot","p":0.91553,"label":"W1[7/8] D1[3/8] H4PIVOT"},
      {"key":"3/8","p":0.91248,"label":"H4[3/8]"},
      {"key":"2/8","p":0.90942,"label":"H4[2/8]"},
      {"key":"1/8","p":0.90637,"label":"H4[1/8]"},
      {"key":"sup","p":0.90332,"label":"MN1[5/8] W1[6/8] D1[2/8] H4SUP"},
      {"key":"-1/8","p":0.90027,"label":"H4[-1/8]"},
      {"key":"-2/8","p":0.89722,"label":"H4[-2/8]"}
    ],
    "boxes": [
      {"key":"6/8","p":0.92163},{"key":"5/8","p":0.91858},{"key":"pivot","p":0.91553},
      {"key":"3/8","p":0.91248},{"key":"2/8","p":0.90942},{"key":"bid","p":0.90586},
      {"key":"1/8","p":0.90637},{"key":"sup","p":0.90332},{"key":"-1/8","p":0.90027},
      {"key":"-2/8","p":0.89722},{"key":"alert","p":0.89111}
    ],
    "trend": [
      {"seg":"a","v":508.5,"p":0.87325},{"seg":"a","v":556.7,"p":0.90271},
      {"seg":"b","v":571.8,"p":0.89225},{"seg":"b","v":653.3,"p":0.92015}
    ],
    "arcs": [
      {"arc":"up","v":506.2,"p":0.87351},{"arc":"up","v":506.5,"p":0.87730},{"arc":"up","v":507.4,"p":0.88122},
      {"arc":"up","v":509.1,"p":0.88645},{"arc":"up","v":511.2,"p":0.89038},{"arc":"up","v":514.1,"p":0.89351},
      {"arc":"up","v":517.7,"p":0.89600},{"arc":"up","v":524.8,"p":0.90067},{"arc":"up","v":532.0,"p":0.90354},
      {"arc":"up","v":539.2,"p":0.90616},{"arc":"up","v":553.5,"p":0.91008},{"arc":"up","v":567.9,"p":0.91296},
      {"arc":"up","v":582.2,"p":0.91531},{"arc":"up","v":596.6,"p":0.91727},{"arc":"up","v":610.9,"p":0.91871},
      {"arc":"up","v":625.3,"p":0.91976},{"arc":"up","v":639.6,"p":0.92041},{"arc":"up","v":656.1,"p":0.92075},
      {"arc":"low","v":512.0,"p":0.87312},{"arc":"low","v":537.8,"p":0.87455},{"arc":"low","v":566.5,"p":0.87704},
      {"arc":"low","v":588.0,"p":0.87992},{"arc":"low","v":602.4,"p":0.88305},{"arc":"low","v":610.9,"p":0.88600},
      {"arc":"low","v":617.0,"p":0.88810},{"arc":"low","v":625.3,"p":0.89125},{"arc":"low","v":635.3,"p":0.89753},
      {"arc":"low","v":643.9,"p":0.90406},{"arc":"low","v":649.7,"p":0.91034},{"arc":"low","v":654.0,"p":0.91583},
      {"arc":"low","v":656.9,"p":0.92015}
    ],
    "redpath": [
      {"seg":"u","v":710.2,"p":0.90646},{"seg":"u","v":714.9,"p":0.91164},
      {"seg":"d","v":716.4,"p":0.91113},{"seg":"d","v":723.4,"p":0.90666},
      {"seg":"s","v":725.1,"p":0.90573},{"seg":"s","v":748.2,"p":0.89208}
    ],
    "heads": [
      {"key":"arcUp","v":656.1,"p":0.92075},{"key":"arcLow","v":656.9,"p":0.92015},
      {"key":"redU","v":714.9,"p":0.91164},{"key":"redD","v":723.4,"p":0.90666},
      {"key":"redS","v":748.2,"p":0.89208}
    ],
    "box": [{"v1":553.5,"v2":584.7,"p1":0.90289,"p2":0.89125}]
  },
  "layer": [
    {
      "data": {"values": [{}]},
      "mark": {"type": "point", "opacity": 0},
      "encoding": {
        "x": {"datum": 100, "type": "quantitative",
          "scale": {"domain": [-0.75, 934.75], "nice": false, "zero": false},
          "axis": {"orient": "bottom", "title": null, "titleOpacity": 0, "domain": false,
            "values": [-0.5,15.5,31.5,47.5,63.5,79.5,95.5,111.5,127.5,143.5,159.5,175.5,191.5,207.5,223.5,239.5,255.5,271.5,287.5,303.5,319.5,335.5,351.5,367.5,383.5,399.5,415.5,431.5,447.5,463.5,479.5,495.5,511.5,527.5,543.5,559.5,575.5,591.5,607.5,623.5,639.5,655.5,671.5,687.5,703.5,719.5,735.5,751.5,767.5,783.5,799.5,815.5,831.5,847.5,863.5,879.5,895.5,911.5,927.5],
            "grid": true, "gridColor": "#C4C4C4", "gridDash": [3, 3], "gridWidth": 1,
            "ticks": true, "tickColor": "#000000", "tickSize": 4,
            "tickOpacity": {"condition": {"test": "(datum.value+0.5)%32==0 && datum.value<710", "value": 1}, "value": 0},
            "labelExpr": "(datum.value+0.5)%32==0 && datum.value<710 ? ['9 Aug 2024','19 Aug 00:00','26 Aug 08:00','2 Sep 16:00','10 Sep 00:00','17 Sep 08:00','24 Sep 16:00','2 Oct 00:00','9 Oct 08:00','16 Oct 16:00','24 Oct 00:00','31 Oct 08:00','7 Nov 16:00','15 Nov 00:00','22 Nov 08:00','29 Nov 16:00','9 Dec 00:00','16 Dec 08:00','23 Dec 16:00','2 Jan 00:00','9 Jan 08:00','16 Jan 16:00','24 Jan 00:00'][(datum.value+0.5)/32] : ''",
            "labels": true, "labelAlign": "left", "labelBaseline": "top", "labelPadding": 1,
            "labelFont": "Liberation Sans", "labelFontSize": 18, "labelColor": "#000000",
            "labelOverlap": false, "labelBound": false, "labelFlush": false, "labelLimit": 0}},
        "y": {"datum": 0.88, "type": "quantitative",
          "scale": {"domain": [0.83526, 0.92447], "nice": false, "zero": false},
          "axis": {"orient": "right", "title": null, "titleOpacity": 0, "domain": false,
            "values": [0.92310,0.92015,0.91720,0.91425,0.91125,0.90825,0.90525,0.90225,0.89930,0.89635,0.89340,0.89045,0.88750,0.88455,0.88160,0.87860,0.87560,0.87260,0.86960,0.86665,0.86370,0.86075,0.85780,0.85485,0.85190,0.84895,0.84595,0.84295,0.83995,0.83695],
            "format": ".5f",
            "grid": true, "gridColor": "#C4C4C4", "gridDash": [3, 3], "gridWidth": 1,
            "ticks": true, "tickColor": "#000000", "tickSize": 4, "labelPadding": 6,
            "labels": true, "labelAlign": "left", "labelBaseline": "middle",
            "labelFont": "Liberation Sans", "labelFontSize": 18, "labelColor": "#000000",
            "labelOverlap": false, "labelBound": false, "labelFlush": false}}
      }
    },
    {
      "data": {"name": "levels"},
      "transform": [{"filter": "datum.key != '7/8' && datum.key != 'pivot' && datum.key != 'sup'"}],
      "mark": {"type": "rule", "strokeWidth": 1.3, "strokeDash": [12, 8]},
      "encoding": {
        "y": {"field": "p", "type": "quantitative"},
        "color": {"field": "key", "type": "nominal", "legend": null,
          "scale": {"domain": ["7/8","6/8","5/8","pivot","3/8","2/8","1/8","sup","-1/8","-2/8","bid","alert"],
                    "range": ["#FF8C00","#FF4500","#556B2F","#1E90FF","#556B2F","#FF4500","#FF8C00","#1E90FF","#FF00FF","#C71585","#000000","#FF0000"]}}
      }
    },
    {
      "data": {"name": "levels"},
      "transform": [{"filter": "datum.key == 'pivot'"}],
      "mark": {"type": "rule", "strokeWidth": 1.3, "color": "#1E90FF"},
      "encoding": {"y": {"field": "p", "type": "quantitative"}}
    },
    {
      "data": {"name": "levels"},
      "transform": [{"filter": "datum.key == 'sup'"}],
      "mark": {"type": "rule", "strokeWidth": 2.5, "color": "#1E90FF"},
      "encoding": {"y": {"field": "p", "type": "quantitative"}}
    },
    {
      "data": {"name": "boxes"},
      "transform": [{"filter": "datum.key == 'bid'"}],
      "mark": {"type": "rule", "strokeWidth": 1.2, "color": "#B8B8B8"},
      "encoding": {"y": {"field": "p", "type": "quantitative"}}
    },
    {
      "data": {"name": "boxes"},
      "transform": [{"filter": "datum.key == 'alert'"}],
      "mark": {"type": "rule", "strokeWidth": 1.2, "color": "#FF0000"},
      "encoding": {"y": {"field": "p", "type": "quantitative"}}
    },
    {
      "data": {"values": [{}]},
      "mark": {"type": "rule", "strokeWidth": 1.2, "color": "#FF0000"},
      "encoding": {"x": {"datum": 750.25, "type": "quantitative"}}
    },
    {
      "data": {"name": "levels"},
      "transform": [{"filter": "datum.key != '7/8'"}],
      "mark": {"type": "text", "align": "center", "baseline": "top", "font": "Liberation Sans", "fontSize": 20},
      "encoding": {
        "x": {"datum": 682.75, "type": "quantitative"},
        "y": {"field": "p", "type": "quantitative"},
        "text": {"field": "label"},
        "color": {"field": "key", "type": "nominal", "legend": null}
      }
    },
    {
      "data": {"name": "levels"},
      "transform": [{"filter": "datum.key == '7/8'"}],
      "mark": {"type": "text", "align": "center", "baseline": "top", "font": "Liberation Sans", "fontSize": 20},
      "encoding": {
        "x": {"datum": 682.75, "type": "quantitative"},
        "y": {"datum": 0.92445, "type": "quantitative"},
        "text": {"field": "label"},
        "color": {"field": "key", "type": "nominal", "legend": null}
      }
    },
    {
      "data": {"name": "candles"},
      "mark": {"type": "rule", "color": "#000000", "strokeWidth": 1.5},
      "encoding": {
        "x": {"field": "t", "type": "quantitative"},
        "y": {"field": "l", "type": "quantitative"},
        "y2": {"field": "h"}
      }
    },
    {
      "data": {"name": "candles"},
      "mark": {"type": "bar", "width": 5, "stroke": "#000000", "strokeWidth": 1},
      "encoding": {
        "x": {"field": "t", "type": "quantitative"},
        "y": {"field": "o", "type": "quantitative"},
        "y2": {"field": "c"},
        "fill": {"condition": {"test": "datum.c >= datum.o", "value": "#ffffff"}, "value": "#000000"}
      }
    },
    {
      "data": {"name": "trend"},
      "mark": {"type": "line", "color": "#4052F0", "strokeWidth": 4.5, "strokeCap": "round"},
      "encoding": {
        "x": {"field": "v", "type": "quantitative"},
        "y": {"field": "p", "type": "quantitative"},
        "detail": {"field": "seg"}
      }
    },
    {
      "data": {"name": "box"},
      "mark": {"type": "rect", "fillOpacity": 0, "stroke": "#FFA500", "strokeWidth": 4, "cornerRadius": 14},
      "encoding": {
        "x": {"field": "v1", "type": "quantitative"},
        "x2": {"field": "v2"},
        "y": {"field": "p1", "type": "quantitative"},
        "y2": {"field": "p2"}
      }
    },
    {
      "data": {"name": "arcs"},
      "mark": {"type": "line", "color": "#FFA500", "strokeWidth": 4, "interpolate": "monotone"},
      "encoding": {
        "x": {"field": "v", "type": "quantitative"},
        "y": {"field": "p", "type": "quantitative"},
        "detail": {"field": "arc"}
      }
    },
    {
      "data": {"name": "redpath"},
      "transform": [{"filter": "datum.seg != 's'"}],
      "mark": {"type": "line", "color": "#F03C3C", "strokeWidth": 5, "strokeDash": [14, 8]},
      "encoding": {
        "x": {"field": "v", "type": "quantitative"},
        "y": {"field": "p", "type": "quantitative"},
        "detail": {"field": "seg"}
      }
    },
    {
      "data": {"name": "redpath"},
      "transform": [{"filter": "datum.seg == 's'"}],
      "mark": {"type": "line", "color": "#F03C3C", "strokeWidth": 5},
      "encoding": {
        "x": {"field": "v", "type": "quantitative"},
        "y": {"field": "p", "type": "quantitative"}
      }
    },
    {
      "data": {"name": "heads"},
      "transform": [{"filter": "datum.key == 'arcUp'"}],
      "mark": {"type": "point", "shape": "triangle-up", "angle": 84, "filled": true, "color": "#FFA500", "opacity": 1, "size": 260},
      "encoding": {"x": {"field": "v", "type": "quantitative"}, "y": {"field": "p", "type": "quantitative"}}
    },
    {
      "data": {"name": "heads"},
      "transform": [{"filter": "datum.key == 'arcLow'"}],
      "mark": {"type": "point", "shape": "triangle-up", "angle": 7, "filled": true, "color": "#FFA500", "opacity": 1, "size": 260},
      "encoding": {"x": {"field": "v", "type": "quantitative"}, "y": {"field": "p", "type": "quantitative"}}
    },
    {
      "data": {"name": "heads"},
      "transform": [{"filter": "datum.key == 'redU'"}],
      "mark": {"type": "point", "shape": "triangle-up", "angle": 9, "filled": true, "color": "#F03C3C", "opacity": 1, "size": 420},
      "encoding": {"x": {"field": "v", "type": "quantitative"}, "y": {"field": "p", "type": "quantitative"}}
    },
    {
      "data": {"name": "heads"},
      "transform": [{"filter": "datum.key == 'redD'"}],
      "mark": {"type": "point", "shape": "triangle-up", "angle": 164, "filled": true, "color": "#F03C3C", "opacity": 1, "size": 420},
      "encoding": {"x": {"field": "v", "type": "quantitative"}, "y": {"field": "p", "type": "quantitative"}}
    },
    {
      "data": {"name": "heads"},
      "transform": [{"filter": "datum.key == 'redS'"}],
      "mark": {"type": "point", "shape": "triangle-up", "angle": 163, "filled": true, "color": "#F03C3C", "opacity": 1, "size": 420},
      "encoding": {"x": {"field": "v", "type": "quantitative"}, "y": {"field": "p", "type": "quantitative"}}
    },
    {
      "data": {"values": [{}]},
      "mark": {"type": "point", "shape": "triangle-down", "filled": true, "color": "#A8A8A8", "opacity": 1, "size": 140},
      "encoding": {"x": {"datum": 709.75, "type": "quantitative"}, "y": {"datum": 0.92430, "type": "quantitative"}}
    },
    {
      "data": {"values": [{}]},
      "mark": {"type": "text", "text": "▼ USDCHF,H4  0.90505 0.90641 0.90483 0.90586", "align": "left", "baseline": "middle", "font": "Liberation Sans", "fontSize": 17, "color": "#000000"},
      "encoding": {"x": {"datum": 0.75, "type": "quantitative"}, "y": {"datum": 0.92383, "type": "quantitative"}}
    },
    {
      "data": {"values": [{}]},
      "mark": {"type": "text", "text": "Волновой анализ USDCHF H4", "align": "center", "baseline": "alphabetic", "font": "Liberation Serif", "fontStyle": "italic", "fontSize": 82, "color": "#7a7a7a", "opacity": 0.55, "dx": 5, "dy": 6},
      "encoding": {"x": {"datum": 274.5, "type": "quantitative"}, "y": {"datum": 0.91613, "type": "quantitative"}}
    },
    {
      "data": {"values": [{}]},
      "mark": {"type": "text", "text": "Волновой анализ USDCHF H4", "align": "center", "baseline": "alphabetic", "font": "Liberation Serif", "fontStyle": "italic", "fontSize": 82, "color": "#000000"},
      "encoding": {"x": {"datum": 274.5, "type": "quantitative"}, "y": {"datum": 0.91613, "type": "quantitative"}}
    },
    {
      "data": {"values": [{}]},
      "mark": {"type": "text", "text": "( 25 января 2025 г.)", "align": "center", "baseline": "alphabetic", "font": "Liberation Serif", "fontStyle": "italic", "fontSize": 64, "color": "#7a7a7a", "opacity": 0.55, "dx": 4, "dy": 5},
      "encoding": {"x": {"datum": 274.5, "type": "quantitative"}, "y": {"datum": 0.90652, "type": "quantitative"}}
    },
    {
      "data": {"values": [{}]},
      "mark": {"type": "text", "text": "( 25 января 2025 г.)", "align": "center", "baseline": "alphabetic", "font": "Liberation Serif", "fontStyle": "italic", "fontSize": 64, "color": "#000000"},
      "encoding": {"x": {"datum": 274.5, "type": "quantitative"}, "y": {"datum": 0.90652, "type": "quantitative"}}
    },
    {
      "data": {"name": "boxes"},
      "mark": {"type": "rule", "strokeWidth": 23, "yOffset": 5},
      "encoding": {
        "x": {"datum": 935.25, "type": "quantitative"},
        "x2": {"datum": 955},
        "y": {"field": "p", "type": "quantitative"},
        "color": {"field": "key", "type": "nominal", "legend": null}
      }
    },
    {
      "data": {"name": "boxes"},
      "transform": [{"filter": "datum.key != 'bid'"}],
      "mark": {"type": "text", "align": "left", "baseline": "middle", "font": "Liberation Sans", "fontSize": 18, "color": "#ffffff", "yOffset": 5},
      "encoding": {
        "x": {"datum": 937, "type": "quantitative"},
        "y": {"field": "p", "type": "quantitative"},
        "text": {"field": "p", "type": "quantitative", "format": ".5f"}
      }
    },
    {
      "data": {"values": [{}]},
      "mark": {"type": "rule", "strokeWidth": 23, "color": "#FF0000"},
      "encoding": {
        "x": {"datum": 730.25, "type": "quantitative"},
        "x2": {"datum": 769.75},
        "y": {"datum": 0.83462, "type": "quantitative"}
      }
    },
    {
      "data": {"values": [{}]},
      "mark": {"type": "text", "text": "2025.01.31 20:00", "align": "center", "baseline": "middle", "font": "Liberation Sans", "fontSize": 18, "color": "#ffffff"},
      "encoding": {"x": {"datum": 750, "type": "quantitative"}, "y": {"datum": 0.83462, "type": "quantitative"}}
    }
  ]
}
